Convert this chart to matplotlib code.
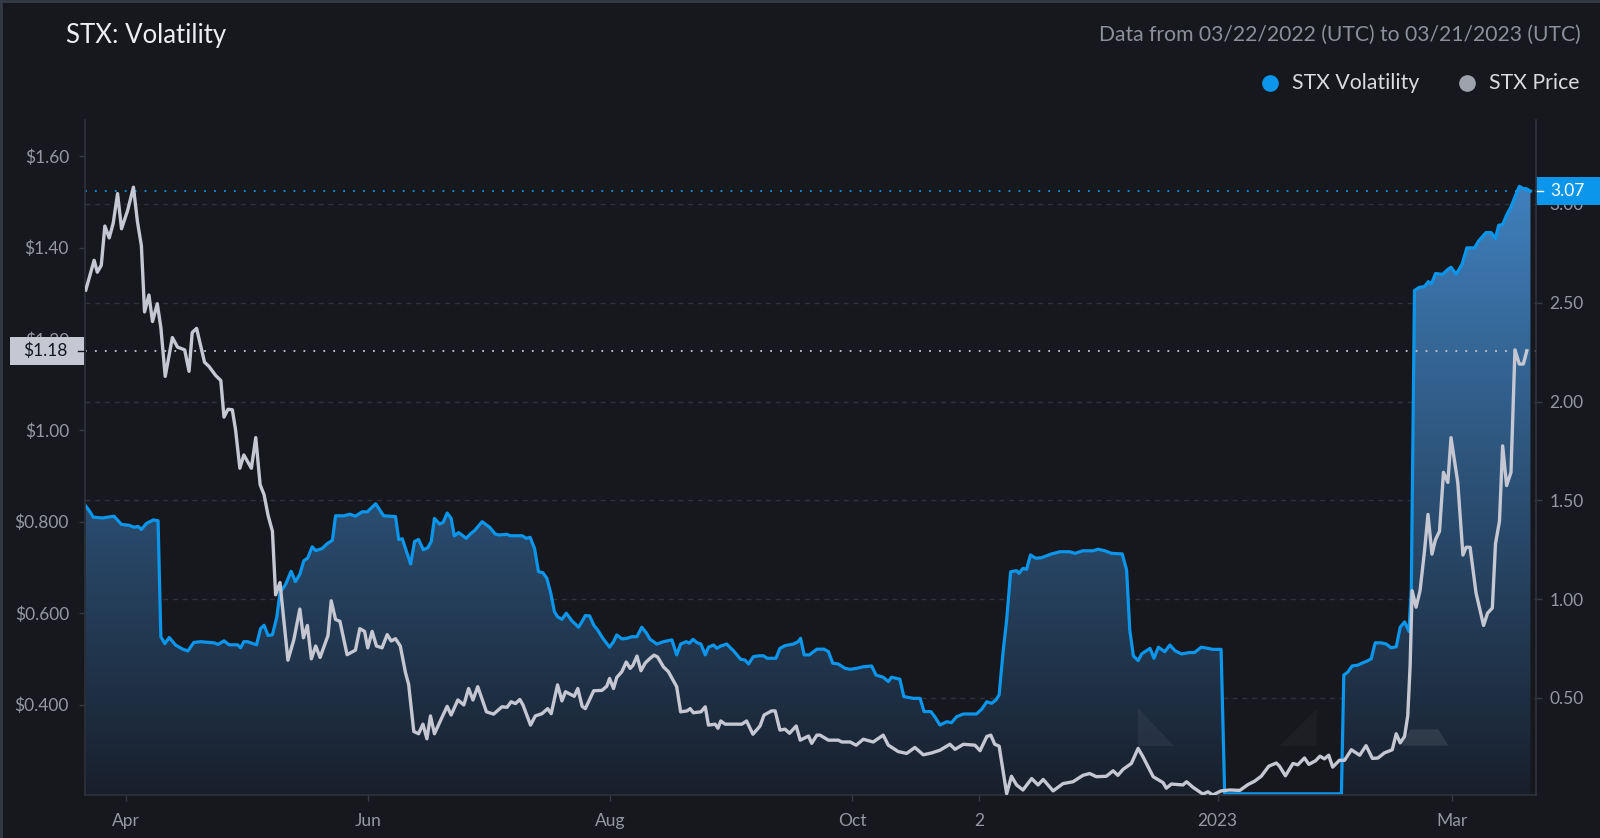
import numpy as np
import pandas as pd
import matplotlib
matplotlib.use('Agg')
import matplotlib.pyplot as plt
import matplotlib.dates as mdates
import matplotlib.transforms as mtransforms
from matplotlib.patches import Rectangle, Polygon
from matplotlib.lines import Line2D
from matplotlib.colors import LinearSegmentedColormap

# data (days counted from 2022-03-22)
start = pd.Timestamp('2022-03-22')

price_days = [0.0, 2.1, 2.9, 3.9, 4.8, 5.9, 6.9, 8.0, 9.0, 10.5, 12.0, 13.0, 14.0, 14.8, 15.9, 16.8,
              18.0, 18.9, 20.0, 21.8, 23.1, 24.9, 26.0, 26.8, 27.9, 29.9, 31.0, 32.7, 34.0, 34.8,
              35.8, 36.9, 37.7, 38.8, 39.8, 41.7, 42.8, 43.9, 44.9, 45.9, 47.0, 47.8, 48.9, 50.9,
              52.4, 53.9, 54.8, 55.8, 56.8, 57.9, 59.0, 61.0, 61.8, 62.9, 64.0, 65.8, 67.9, 69.0,
              70.2, 71.0, 72.1, 73.2, 74.6, 75.9, 76.9, 78.0, 79.2, 80.5, 81.3, 82.6, 83.8, 84.9,
              85.9, 86.8, 87.8, 89.7, 91.0, 92.0, 93.7, 95.2, 96.4, 97.5, 98.7, 100.9, 102.7,
              104.8, 106.1, 107.1, 108.2, 109.3, 110.1, 112.0, 113.2, 114.9, 116.3, 117.2, 118.8,
              119.9, 120.8, 123.0, 123.9, 125.0, 125.8, 127.9, 130.0, 131.2, 131.9, 132.9, 133.7,
              135.0, 136.1, 137.1, 137.8, 138.8, 139.8, 140.9, 142.1, 143.1, 144.0, 145.5, 146.7,
              148.8, 149.8, 151.4, 152.2, 153.0, 154.9, 156.0, 156.8, 158.5, 159.2, 159.9, 161.0,
              165.2, 166.4, 168.0, 169.8, 170.8, 172.7, 173.6, 174.8, 176.1, 177.2, 178.9, 179.9,
              182.0, 182.8, 184.1, 184.9, 187.0, 189.5, 190.4, 192.5, 194.0, 195.8, 198.3, 200.8,
              202.1, 204.6, 206.7, 208.8, 210.9, 213.0, 215.1, 217.6, 218.9, 221.0, 223.9, 225.2,
              226.9, 227.9, 228.9, 230.0, 231.9, 233.1, 234.4, 236.0, 238.2, 239.8, 241.1, 243.6,
              246.1, 248.6, 251.1, 252.8, 254.5, 257.0, 258.7, 259.9, 261.2, 263.3, 265.0, 266.2,
              268.8, 271.3, 272.1, 273.4, 276.3, 277.2, 278.8, 281.3, 282.6, 283.8, 285.9, 288.1,
              290.6, 292.7, 294.3, 296.0, 297.9, 299.8, 300.6, 302.1, 304.0, 305.2, 306.9, 308.0,
              309.7, 310.8, 311.9, 313.0, 314.0, 315.7, 317.0, 318.7, 320.8, 322.4, 324.0, 325.4,
              327.0, 329.0, 330.0, 331.0, 332.1, 332.9, 333.5, 334.0, 335.0, 336.0, 337.1, 338.0,
              339.0, 339.9, 340.9, 341.9, 343.0, 343.8, 345.5, 346.8, 347.6, 348.6, 350.1, 352.0,
              353.0, 354.2, 355.0, 356.0, 356.8, 357.8, 358.9, 359.9, 361.0, 362.0, 362.9]
price_vals = [1.307, 1.372, 1.346, 1.361, 1.447, 1.421, 1.453, 1.518, 1.441, 1.480, 1.532, 1.457,
              1.404, 1.259, 1.296, 1.238, 1.277, 1.225, 1.118, 1.203, 1.182, 1.176, 1.129, 1.214,
              1.223, 1.149, 1.140, 1.120, 1.109, 1.029, 1.046, 1.045, 1.002, 0.917, 0.946, 0.917,
              0.984, 0.881, 0.859, 0.814, 0.779, 0.640, 0.667, 0.497, 0.542, 0.609, 0.546, 0.573,
              0.500, 0.528, 0.503, 0.551, 0.627, 0.586, 0.582, 0.509, 0.519, 0.566, 0.560, 0.524,
              0.560, 0.528, 0.524, 0.553, 0.539, 0.544, 0.528, 0.470, 0.444, 0.341, 0.336, 0.357,
              0.325, 0.375, 0.336, 0.372, 0.396, 0.377, 0.410, 0.399, 0.435, 0.410, 0.439, 0.384,
              0.379, 0.395, 0.394, 0.406, 0.402, 0.411, 0.399, 0.355, 0.375, 0.380, 0.391, 0.380,
              0.443, 0.408, 0.428, 0.418, 0.435, 0.396, 0.391, 0.430, 0.431, 0.440, 0.457, 0.435,
              0.459, 0.472, 0.493, 0.479, 0.486, 0.506, 0.474, 0.491, 0.501, 0.508, 0.504, 0.482,
              0.472, 0.439, 0.384, 0.386, 0.391, 0.382, 0.384, 0.395, 0.355, 0.357, 0.348, 0.364,
              0.357, 0.357, 0.364, 0.335, 0.353, 0.377, 0.386, 0.386, 0.344, 0.346, 0.337, 0.353,
              0.322, 0.331, 0.315, 0.333, 0.333, 0.322, 0.322, 0.318, 0.318, 0.311, 0.324, 0.318,
              0.333, 0.311, 0.297, 0.293, 0.306, 0.290, 0.294, 0.300, 0.313, 0.302, 0.313, 0.311,
              0.299, 0.330, 0.333, 0.313, 0.309, 0.205, 0.243, 0.224, 0.213, 0.238, 0.224, 0.236,
              0.211, 0.227, 0.231, 0.245, 0.249, 0.242, 0.243, 0.255, 0.245, 0.258, 0.271, 0.304,
              0.286, 0.242, 0.229, 0.217, 0.226, 0.224, 0.231, 0.219, 0.204, 0.209, 0.202, 0.211,
              0.213, 0.212, 0.225, 0.232, 0.243, 0.265, 0.272, 0.265, 0.244, 0.271, 0.268, 0.283,
              0.269, 0.277, 0.287, 0.281, 0.289, 0.263, 0.278, 0.278, 0.301, 0.289, 0.310, 0.282,
              0.283, 0.294, 0.301, 0.336, 0.316, 0.330, 0.375, 0.484, 0.649, 0.613, 0.649, 0.734,
              0.816, 0.729, 0.761, 0.779, 0.908, 0.886, 0.984, 0.886, 0.727, 0.744, 0.744, 0.644,
              0.573, 0.600, 0.611, 0.752, 0.801, 0.966, 0.879, 0.908, 1.176, 1.145, 1.145, 1.174]

vol_days = [0.0, 0.8, 1.9, 4.2, 7.1, 9.0, 10.9, 12.2, 13.2, 14.0, 15.3, 17.0, 18.2, 18.9, 19.9,
            21.0, 22.6, 24.3, 25.7, 27.2, 28.9, 32.3, 33.3, 34.8, 36.1, 38.2, 39.0, 39.8, 40.7,
            43.0, 44.0, 44.9, 45.9, 47.0, 48.1, 48.9, 50.3, 51.7, 52.8, 53.9, 54.9, 55.9, 57.0,
            57.9, 59.5, 60.8, 62.1, 62.9, 65.0, 66.5, 67.9, 69.6, 70.9, 73.0, 75.0, 78.0, 78.8,
            79.7, 81.8, 82.8, 83.8, 85.0, 86.1, 87.0, 87.8, 89.1, 90.0, 91.0, 92.0, 92.8, 93.9,
            95.8, 97.0, 97.9, 99.8, 101.7, 103.1, 104.0, 106.1, 106.9, 109.9, 110.9, 111.9, 113.0,
            114.0, 115.1, 116.1, 117.1, 118.0, 118.8, 119.9, 121.0, 122.4, 124.1, 125.2, 125.8,
            126.9, 127.9, 128.9, 130.2, 131.9, 132.9, 133.7, 135.0, 136.3, 137.5, 138.8, 140.0,
            141.1, 142.1, 143.8, 145.5, 147.6, 148.8, 149.8, 151.2, 152.0, 152.9, 153.9, 154.9,
            156.0, 156.8, 158.1, 158.9, 159.9, 161.4, 163.1, 164.9, 166.0, 166.9, 168.1, 169.4,
            170.6, 171.6, 173.8, 174.8, 176.1, 178.2, 179.4, 180.0, 180.9, 182.2, 184.1, 185.9,
            187.0, 188.1, 189.5, 191.2, 192.5, 194.1, 195.8, 197.9, 199.0, 200.8, 202.1, 202.9,
            205.0, 206.0, 208.4, 210.1, 211.1, 212.8, 213.8, 215.1, 216.8, 218.0, 219.3, 221.0,
            224.3, 225.6, 226.9, 228.1, 229.2, 230.0, 231.0, 231.9, 232.9, 234.4, 235.0, 236.0,
            236.9, 237.9, 239.2, 240.7, 243.2, 245.3, 247.8, 249.1, 251.1, 253.7, 254.9, 256.6,
            258.3, 261.0, 262.1, 262.9, 263.8, 265.0, 265.9, 268.0, 269.0, 270.1, 271.7, 273.0,
            274.3, 275.9, 278.0, 279.2, 280.9, 282.6, 283.8, 285.9, 286.8, 316.2, 316.8, 317.8,
            318.9, 320.3, 321.6, 322.6, 323.7, 324.7, 326.2, 327.5, 328.7, 330.0, 331.0, 332.1,
            333.2, 333.8, 334.6, 335.8, 337.1, 338.1, 338.9, 339.9, 341.7, 343.0, 343.8, 345.1,
            346.6, 347.8, 349.7, 350.8, 352.6, 353.9, 355.0, 355.8, 356.8, 357.8, 358.9, 360.0,
            361.0, 362.0, 362.7, 363.8]
vol_vals = [1.471, 1.450, 1.415, 1.411, 1.420, 1.378, 1.374, 1.364, 1.368, 1.353, 1.384, 1.401,
            1.397, 0.810, 0.775, 0.806, 0.768, 0.748, 0.738, 0.781, 0.785, 0.779, 0.771, 0.789,
            0.769, 0.769, 0.754, 0.785, 0.785, 0.769, 0.851, 0.868, 0.816, 0.820, 0.909, 1.033,
            1.074, 1.141, 1.089, 1.126, 1.194, 1.209, 1.265, 1.246, 1.256, 1.281, 1.298, 1.422,
            1.422, 1.430, 1.420, 1.442, 1.442, 1.483, 1.422, 1.418, 1.302, 1.306, 1.178, 1.292,
            1.302, 1.250, 1.260, 1.292, 1.409, 1.380, 1.389, 1.436, 1.409, 1.320, 1.337, 1.308,
            1.333, 1.347, 1.392, 1.364, 1.330, 1.325, 1.328, 1.321, 1.321, 1.308, 1.313, 1.257,
            1.139, 1.134, 1.106, 1.030, 0.937, 0.911, 0.898, 0.929, 0.891, 0.858, 0.895, 0.917,
            0.915, 0.869, 0.844, 0.802, 0.757, 0.785, 0.819, 0.799, 0.802, 0.810, 0.810, 0.858,
            0.831, 0.797, 0.773, 0.785, 0.794, 0.718, 0.773, 0.785, 0.777, 0.797, 0.780, 0.773,
            0.718, 0.757, 0.768, 0.751, 0.763, 0.773, 0.739, 0.696, 0.692, 0.672, 0.709, 0.713,
            0.714, 0.701, 0.701, 0.751, 0.765, 0.773, 0.785, 0.802, 0.718, 0.718, 0.747, 0.747,
            0.735, 0.676, 0.672, 0.650, 0.645, 0.650, 0.658, 0.662, 0.616, 0.605, 0.583, 0.605,
            0.595, 0.507, 0.498, 0.498, 0.431, 0.431, 0.405, 0.363, 0.380, 0.375, 0.405, 0.419,
            0.419, 0.443, 0.481, 0.473, 0.490, 0.515, 0.734, 0.895, 1.139, 1.144, 1.131, 1.156,
            1.151, 1.224, 1.207, 1.210, 1.229, 1.240, 1.240, 1.232, 1.245, 1.245, 1.253, 1.245,
            1.232, 1.229, 1.148, 0.844, 0.713, 0.689, 0.723, 0.751, 0.701, 0.757, 0.734, 0.768,
            0.739, 0.723, 0.730, 0.730, 0.757, 0.751, 0.746, 0.746, 0.015, 0.015, 0.616, 0.631,
            0.662, 0.666, 0.678, 0.686, 0.698, 0.779, 0.779, 0.773, 0.754, 0.759, 0.858, 0.885,
            0.837, 1.054, 2.562, 2.578, 2.582, 2.607, 2.597, 2.648, 2.644, 2.669, 2.680, 2.644,
            2.696, 2.778, 2.778, 2.814, 2.855, 2.855, 2.826, 2.892, 2.896, 2.944, 2.985, 3.041,
            3.089, 3.078, 3.078, 3.065]

tick_dates = ['2022-04-01', '2022-06-01', '2022-08-01', '2022-10-01', '2022-11-02', '2023-01-01', '2023-03-01']
tick_labels = ['Apr', 'Jun', 'Aug', 'Oct', '2', '2023', 'Mar']
price_ticks = [0.4, 0.6, 0.8, 1.0, 1.2, 1.4, 1.6]
price_tick_labels = ['$0.400', '$0.600', '$0.800', '$1.00', '$1.20', '$1.40', '$1.60']
vol_ticks = [0.5, 1.0, 1.5, 2.0, 2.5, 3.0]
last_price = price_vals[-1]
last_price_label = '$1.18'
last_vol = vol_vals[-1]
last_vol_label = '3.07'

BG = '#17181d'
BLUE = '#0b96ec'
PRICE_C = '#c5c8d3'
TXT = '#9598a1'
AXC = '#2e323c'

plt.rcParams['font.family'] = ['Lato', 'DejaVu Sans']

W, H = 1600, 838
fig = plt.figure(figsize=(16, 8.38), dpi=100, facecolor=BG)
ax = fig.add_axes([85 / W, 43 / H, 1451 / W, 675 / H])
ax2 = ax.twinx()
ax.set_zorder(ax2.get_zorder() + 1)
ax.patch.set_visible(False)

xp = mdates.date2num(start + pd.to_timedelta(price_days, unit='D'))
xv = mdates.date2num(start + pd.to_timedelta(vol_days, unit='D'))
x0 = mdates.date2num(start - pd.Timedelta(days=0.2))
x1 = mdates.date2num(start + pd.Timedelta(days=365.2))

# volatility area with vertical gradient
cmap = LinearSegmentedColormap.from_list('volfill', ['#181f2b', '#4082c0'])
grad = np.linspace(0, 1, 256).reshape(-1, 1)
im = ax2.imshow(grad, extent=[x0, x1, 0, 3.15], origin='lower', aspect='auto',
                cmap=cmap, zorder=1, interpolation='bicubic')
poly = ax2.fill_between(xv, vol_vals, 0, facecolor='none', edgecolor='none')
im.set_clip_path(poly.get_paths()[0], ax2.transData)
ax2.plot(xv, vol_vals, color=BLUE, lw=2.3, zorder=3, solid_joinstyle='round')

for v in vol_ticks:
    ax2.axhline(v, color='#2f333d', lw=1, ls=(0, (3.5, 3.5)), zorder=0.5)
ax2.axhline(last_vol, color=BLUE, lw=1.3, ls=(0, (1, 4.5)), zorder=2)

# watermark fragments
wm = [([(0.7259, 0.1284), (0.7259, 0.0726), (0.7505, 0.0726)], 0.05),
      ([(0.8236, 0.0730), (0.8488, 0.1274), (0.8488, 0.0730)], 0.03),
      ([(0.9074, 0.0730), (0.9132, 0.0972), (0.9327, 0.0972), (0.9396, 0.0730)], 0.09)]
for pts, a in wm:
    ax2.add_patch(Polygon(pts, closed=True, transform=ax2.transAxes, facecolor='white',
                          alpha=a, edgecolor='none', zorder=2))

# price line
ax.plot(xp, price_vals, color=PRICE_C, lw=2.4, zorder=3, solid_joinstyle='round')
ax.axhline(last_price, color=PRICE_C, lw=1.3, ls=(0, (1, 4.5)), zorder=2)

ax.set_xlim(x0, x1)
ax.set_ylim(0.202, 1.679)
ax2.set_ylim(0.009, 3.425)

ax.set_xticks(mdates.date2num(pd.to_datetime(tick_dates)))
ax.set_xticklabels(tick_labels)
ax.set_yticks(price_ticks)
ax.set_yticklabels(price_tick_labels)
ax2.set_yticks(vol_ticks)
ax2.set_yticklabels([f'{v:.2f}' for v in vol_ticks])

ax.tick_params(axis='x', colors='#363a45', labelcolor=TXT, length=4.5, width=1, pad=8.5, labelsize=12.5)
ax.tick_params(axis='y', colors='#363a45', labelcolor=TXT, length=4.5, width=1, pad=7, labelsize=12.5)
ax2.tick_params(axis='y', colors='#363a45', labelcolor=TXT, length=4.5, width=1, pad=5, labelsize=12.5)

for s in ['left', 'right', 'bottom']:
    ax.spines[s].set_color(AXC)
    ax.spines[s].set_linewidth(1.2)
ax.spines['top'].set_visible(False)
for s in ax2.spines.values():
    s.set_visible(False)

# last value labels
trans_l = mtransforms.blended_transform_factory(ax.transAxes, ax.transData)
ax.add_patch(Rectangle((-75 / 1451, last_price - 14 / 457), 74 / 1451, 28 / 457,
                       transform=trans_l, facecolor=PRICE_C, edgecolor='none',
                       clip_on=False, zorder=5))
ax.text(-17 / 1451, last_price, last_price_label, transform=trans_l, ha='right', va='center',
        color='#131722', fontsize=12.5, zorder=6, clip_on=False)
ax.plot([-7 / 1451, 0], [last_price, last_price], transform=trans_l, color='#131722',
        lw=1, clip_on=False, zorder=6)

trans_r = mtransforms.blended_transform_factory(ax2.transAxes, ax2.transData)
ax2.add_patch(Rectangle((1.0, last_vol - 14 / 197.6), 64 / 1451, 28 / 197.6,
                        transform=trans_r, facecolor=BLUE, edgecolor='none',
                        clip_on=False, zorder=5))
ax2.text(1 + 14 / 1451, last_vol, last_vol_label, transform=trans_r, ha='left', va='center',
         color='white', fontsize=12.5, zorder=6, clip_on=False)
ax2.plot([1.0, 1 + 7 / 1451], [last_vol, last_vol], transform=trans_r, color='white',
         lw=1, clip_on=False, zorder=6)

# header
fig.text(66 / W, 1 - 36 / H, 'STX: Volatility', fontsize=18.5,
         color='#eceef2', ha='left', va='center')
fig.text(1581 / W, 1 - 35 / H, 'Data from 03/22/2022 (UTC) to 03/21/2023 (UTC)', fontsize=15.2,
         color='#8b909c', ha='right', va='center')

# legend
fig.add_artist(Line2D([1270 / W], [1 - 83 / H], marker='o', markersize=11, color=BLUE,
                      transform=fig.transFigure))
fig.text(1292 / W, 1 - 83 / H, 'STX Volatility', fontsize=15.3, color='#d8dae0', ha='left', va='center')
fig.add_artist(Line2D([1467 / W], [1 - 83 / H], marker='o', markersize=11, color='#9ea2ad',
                      transform=fig.transFigure))
fig.text(1489 / W, 1 - 83 / H, 'STX Price', fontsize=15.3, color='#d8dae0', ha='left', va='center')

# panel border
fig.add_artist(Line2D([0, 1], [1 - 1 / H, 1 - 1 / H], transform=fig.transFigure, color='#363a45', lw=2))
fig.add_artist(Line2D([1 / W, 1 / W], [0, 1], transform=fig.transFigure, color='#363a45', lw=2))

fig.savefig('out.png', dpi=100, facecolor=BG)
